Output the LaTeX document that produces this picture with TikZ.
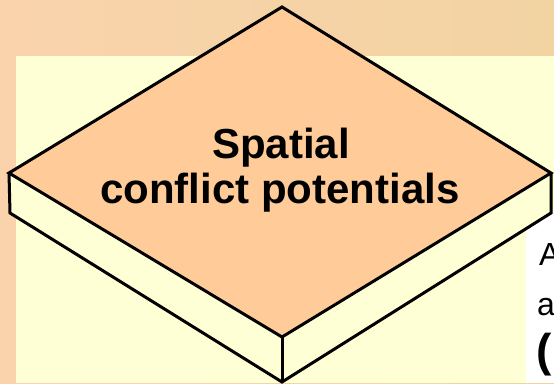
\documentclass[tikz,border=0pt]{standalone}
\usepackage{fontspec}
\setmainfont{Liberation Sans}
\definecolor{bgleft}{HTML}{FAD3AC}
\definecolor{bgright}{HTML}{F2D3A2}
\definecolor{panel}{HTML}{FFFFD5}
\definecolor{topface}{HTML}{FFCC99}
\tikzset{
  edge/.style={line width=3pt, black, line join=miter},
  bigtext/.style={font=\fontsize{42}{45}\selectfont\bfseries, inner sep=0pt, anchor=base},
  sidetext/.style={font=\fontsize{32}{38}\selectfont, inner sep=0pt, anchor=base west},
}
\begin{document}
\begin{tikzpicture}[x=1pt,y=-1pt]
\useasboundingbox (0,0) rectangle (554,383);
\clip (0,0) rectangle (554,383);
% background
\shade[left color=bgleft, right color=bgright] (0,0) rectangle (554,383);
\fill[panel] (16,56) rectangle (554,383);
\fill[white] (526,213) rectangle (554,383);
% slab corners
\coordinate (T) at (282,7);
\coordinate (L) at (9,173);
\coordinate (B) at (282,337);
\coordinate (R) at (551,173);
\coordinate (Ld) at (10,213);
\coordinate (Bd) at (282,382);
\coordinate (Rd) at (551,213);
% side faces
\fill[panel] (L) -- (Ld) -- (Bd) -- (Rd) -- (R) -- (B) -- cycle;
\draw[edge] (L) -- (Ld) -- (Bd) -- (Rd) -- (R);
\draw[edge] (B) -- (Bd);
% top face
\filldraw[edge, fill=topface] (T) -- (R) -- (B) -- (L) -- cycle;
% text
\node[bigtext] (t1) at (281,158) {Spatial};
\node[bigtext] (t2) at (280,203) {conflict potentials};
% cut-off text at right edge, as in the reference
\node[sidetext] (s1) at (539,265) {A};
\node[sidetext] (s2) at (537,315) {a};
\node[font=\fontsize{46}{50}\selectfont\bfseries, inner sep=0pt, anchor=base west] (s3) at (536,366) {(};
\end{tikzpicture}
\end{document}
